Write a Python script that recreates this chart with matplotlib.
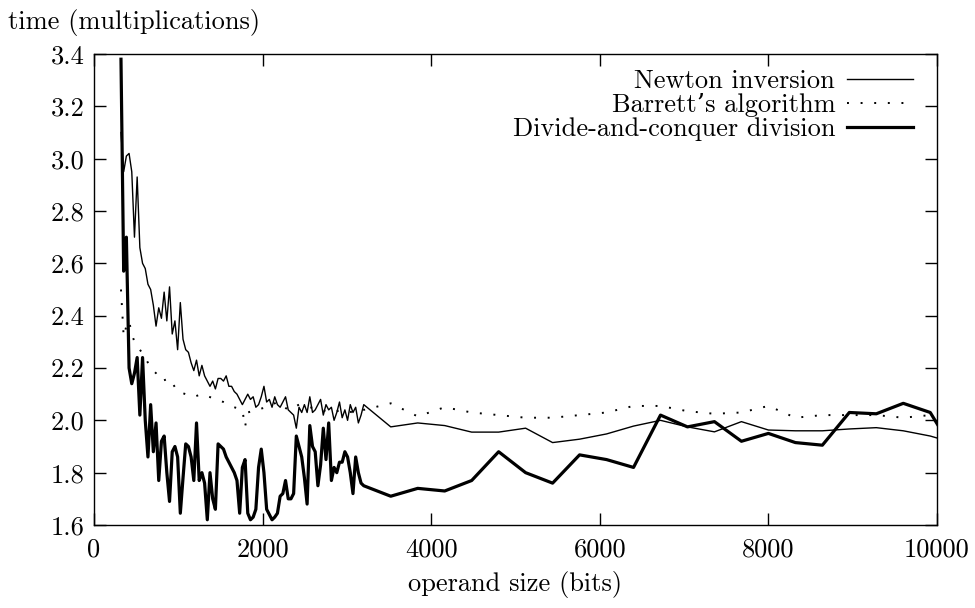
import numpy as np
import matplotlib
matplotlib.use("Agg")
import matplotlib.pyplot as plt

plt.rcParams['font.family'] = ['cmr10', 'DejaVu Serif']
plt.rcParams['axes.formatter.use_mathtext'] = True

# operand sizes (bits), dense part sampled every 32 bits, then every 320 bits
dense_bits = [
    320, 352, 384, 416, 448, 480, 512, 544, 576, 608,
    640, 672, 704, 736, 768, 800, 832, 864, 896, 928,
    960, 992, 1024, 1056, 1088, 1120, 1152, 1184, 1216, 1248,
    1280, 1312, 1344, 1376, 1408, 1440, 1472, 1504, 1536, 1568,
    1600, 1632, 1664, 1696, 1728, 1760, 1792, 1824, 1856, 1888,
    1920, 1952, 1984, 2016, 2048, 2080, 2112, 2144, 2176, 2208,
    2240, 2272, 2304, 2336, 2368, 2400, 2432, 2464, 2496, 2528,
    2560, 2592, 2624, 2656, 2688, 2720, 2752, 2784, 2816, 2848,
    2880, 2912, 2944, 2976, 3008, 3040, 3072, 3104, 3136, 3168,
    3200,
]
sparse_bits = [
    3520, 3840, 4160, 4480, 4800, 5120, 5440, 5760, 6080, 6400,
    6720, 7040, 7360, 7680, 8000, 8320, 8640, 8960, 9280, 9600,
    9920, 10240,
]

newton_dense = [
    3.10, 2.95, 3.01, 3.02, 2.95, 2.70, 2.93, 2.66, 2.60, 2.58,
    2.52, 2.50, 2.44, 2.36, 2.43, 2.39, 2.49, 2.38, 2.51, 2.33,
    2.38, 2.27, 2.45, 2.31, 2.27, 2.26, 2.22, 2.19, 2.23, 2.17,
    2.21, 2.17, 2.15, 2.13, 2.15, 2.12, 2.16, 2.16, 2.15, 2.17,
    2.13, 2.13, 2.11, 2.10, 2.08, 2.06, 2.08, 2.10, 2.08, 2.09,
    2.05, 2.06, 2.09, 2.13, 2.07, 2.08, 2.05, 2.09, 2.06, 2.05,
    2.07, 2.09, 2.04, 2.03, 2.02, 1.97, 2.05, 2.03, 2.06, 2.03,
    2.09, 2.03, 2.04, 2.06, 2.08, 2.02, 2.06, 2.04, 2.05, 2.00,
    2.03, 2.07, 2.01, 2.04, 2.00, 2.06, 2.03, 2.05, 1.99, 2.02,
    2.06,
]
newton_sparse = [
    1.975, 1.99, 1.98, 1.955, 1.955, 1.97, 1.915, 1.928, 1.948, 1.978,
    2.00, 1.975, 1.956, 1.995, 1.963, 1.96, 1.96, 1.967, 1.972, 1.96,
    1.94, 1.91,
]

dc_dense = [
    3.38, 2.57, 2.70, 2.20, 2.14, 2.18, 2.24, 2.02, 2.24, 2.00,
    1.86, 2.06, 1.88, 1.99, 1.77, 1.92, 1.94, 1.80, 1.69, 1.88,
    1.90, 1.86, 1.645, 1.78, 1.91, 1.90, 1.86, 1.77, 1.99, 1.77,
    1.80, 1.76, 1.62, 1.80, 1.70, 1.66, 1.91, 1.90, 1.89, 1.86,
    1.84, 1.82, 1.80, 1.77, 1.645, 1.82, 1.85, 1.645, 1.62, 1.63,
    1.66, 1.82, 1.89, 1.80, 1.66, 1.64, 1.62, 1.63, 1.645, 1.71,
    1.72, 1.77, 1.70, 1.70, 1.72, 1.94, 1.90, 1.86, 1.78, 1.68,
    1.98, 1.90, 1.88, 1.75, 1.83, 1.97, 1.85, 1.99, 1.77, 1.82,
    1.80, 1.84, 1.84, 1.88, 1.86, 1.80, 1.72, 1.86, 1.80, 1.76,
    1.75,
]
dc_sparse = [
    1.71, 1.74, 1.73, 1.77, 1.88, 1.80, 1.76, 1.868, 1.85, 1.82,
    2.02, 1.975, 1.995, 1.92, 1.95, 1.915, 1.905, 2.03, 2.025, 2.065,
    2.03, 1.86,
]

barrett_bits = [
    320, 352, 384, 416, 448, 480, 544, 608, 672, 736,
    800, 896, 992, 1088, 1184, 1280, 1408, 1536, 1664, 1760,
    1792, 1824, 1920, 2048, 2176, 2304, 2432, 2560, 2688, 2816,
    2944, 3072, 3200,
]
barrett_dense = [
    2.50, 2.32, 2.36, 2.38, 2.33, 2.30, 2.27, 2.24, 2.20, 2.18,
    2.15, 2.16, 2.11, 2.10, 2.09, 2.10, 2.085, 2.07, 2.05, 2.04,
    1.975, 2.03, 2.04, 2.05, 2.07, 2.04, 2.06, 2.05, 2.04, 2.03,
    2.04, 2.03, 2.04,
]
barrett_sparse = [
    2.065, 2.015, 2.05, 2.03, 2.02, 2.01, 2.01, 2.02, 2.03, 2.055,
    2.055, 2.035, 2.025, 2.03, 2.055, 2.01, 2.02, 2.02, 2.02, 2.01,
    2.02, 2.02,
]

x_ticks = [0, 2000, 4000, 6000, 8000, 10000]
y_ticks = [1.6, 1.8, 2.0, 2.2, 2.4, 2.6, 2.8, 3.0, 3.2, 3.4]

fs = 19

fig = plt.figure(figsize=(9.75, 6.08), dpi=100)
ax = fig.add_axes([94 / 975, 1 - 525 / 608, 843 / 975, 471 / 608])

ax.plot(dense_bits + sparse_bits, newton_dense + newton_sparse,
        color="black", lw=1.0, label="Newton inversion")
ax.plot(barrett_bits + sparse_bits, barrett_dense + barrett_sparse,
        color="black", lw=1.4, linestyle=(0, (1, 6)), dash_capstyle="butt",
        label="Barrett\u2019s algorithm")
ax.plot(dense_bits + sparse_bits, dc_dense + dc_sparse,
        color="black", lw=2.3, label="Divide-and-conquer division")

ax.set_xlim(0, 10000)
ax.set_ylim(1.6, 3.4)
ax.set_xticks(x_ticks)
ax.set_xticklabels([str(v) for v in x_ticks])
ax.set_yticks(y_ticks)
ax.set_yticklabels([f"{v:.1f}" for v in y_ticks])
ax.tick_params(direction="in", length=8.6, width=1.0, top=True, right=True,
               labelsize=fs)
ax.tick_params(axis="x", pad=9)
ax.tick_params(axis="y", pad=7)
for sp in ax.spines.values():
    sp.set_linewidth(1.0)

ax.set_xlabel("operand size (bits)", fontsize=fs, labelpad=7)
fig.text(8 / 975, 1 - 22 / 608, "time (multiplications)", fontsize=fs,
         ha="left", va="center")

leg = ax.legend(loc="upper right", bbox_to_anchor=(0.9715, 0.967),
                frameon=False, fontsize=fs, markerfirst=False,
                handlelength=2.5, handletextpad=0.45, labelspacing=0.0,
                borderpad=0, borderaxespad=0)
for col in leg._legend_handle_box.get_children():
    col.align = "right"

fig.savefig("out.png", dpi=100)
